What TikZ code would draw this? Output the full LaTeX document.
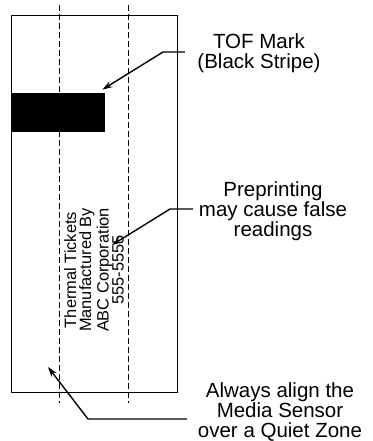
\documentclass[tikz,border=0pt]{standalone}
\usepackage{fontspec}
\setmainfont{Liberation Sans}
\usetikzlibrary{arrows.meta}
\begin{document}
\begin{tikzpicture}[
    x=0.5pt, y=-0.5pt,
    every node/.style={font=\fontsize{10.25}{10}\selectfont, align=center, inner sep=0pt},
    ticket/.style={rectangle, draw=black, line width=0.5pt, minimum width=83pt, minimum height=188.5pt},
    stripe/.style={rectangle, fill=black, minimum width=46.5pt, minimum height=19.5pt},
    guide/.style={dashed, dash pattern=on 3pt off 1.5pt, line width=0.5pt},
    lead/.style={-{Stealth[length=5pt, width=3.2pt]}, line width=0.7pt},
]
\useasboundingbox (0,0) rectangle (373,441);
\node[ticket] (ticket) at (95,203.5) {};
\foreach \x in {60,129} \draw[guide] (\x,5) -- (\x,403);
\node[stripe] (stripe) at (58.5,112.5) {};
\node[rotate=90, font=\fontsize{8.2}{7.6}\selectfont] (print) at (94,270)
    {Thermal Tickets\\Manufactured By\\ABC Corporation\\555-5555};
\node (tof)  at (259,53)  {TOF Mark\\(Black Stripe)};
\node (pre)  at (273,211) {Preprinting\\may cause false\\readings};
\node (zone) at (280,412) {Always align the\\Media Sensor\\over a Quiet Zone};
\coordinate (tofpt)  at (185,52);
\coordinate (prept)  at (193,209);
\coordinate (zonept) at (187,419);
\coordinate (pretip)  at (112,245);
\coordinate (zonetip) at (48,367);
\draw[lead] (tofpt) -- ++(-22,0) -- ([xshift=-1.5pt, yshift=1.5pt]stripe.north east);
\draw[lead] (prept) -- ++(-23,0) -- (pretip);
\draw[lead] (zonept) -- ++(-99,0) -- (zonetip);
\end{tikzpicture}
\end{document}
